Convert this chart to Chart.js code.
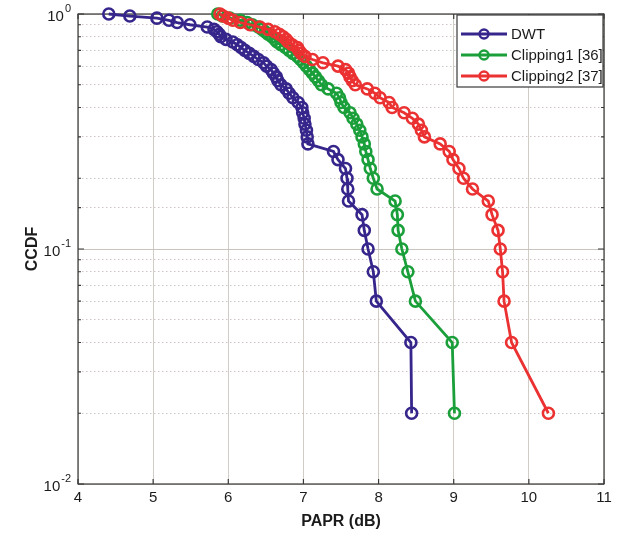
<!DOCTYPE html>
<html>
<head>
<meta charset="utf-8">
<script src="https://cdn.jsdelivr.net/npm/chart.js@4.4.0/dist/chart.umd.min.js"></script>
<style>
  body { margin: 0; background: #fff; }
  canvas { display: block; }
</style>
</head>
<body>
<canvas id="ccdfChart" width="621" height="541"></canvas>
<script>
// CCDF levels, shared by the three curves (50 samples each)
const ccdfLevels = [1.00, 0.98, 0.96, 0.94, 0.92, 0.90, 0.88, 0.86, 0.84, 0.82,
                    0.80, 0.78, 0.76, 0.74, 0.72, 0.70, 0.68, 0.66, 0.64, 0.62,
                    0.60, 0.58, 0.56, 0.54, 0.52, 0.50, 0.48, 0.46, 0.44, 0.42,
                    0.40, 0.38, 0.36, 0.34, 0.32, 0.30, 0.28, 0.26, 0.24, 0.22,
                    0.20, 0.18, 0.16, 0.14, 0.12, 0.10, 0.08, 0.06, 0.04, 0.02];

// PAPR (dB) at each CCDF level
const dwtPapr = [4.41, 4.69, 5.05, 5.21, 5.32, 5.49, 5.72, 5.81, 5.85, 5.88,
                 5.90, 5.97, 6.06, 6.12, 6.17, 6.22, 6.28, 6.34, 6.40, 6.47,
                 6.51, 6.57, 6.60, 6.64, 6.66, 6.70, 6.77, 6.81, 6.86, 6.93,
                 6.98, 6.99, 7.01, 7.02, 7.04, 7.05, 7.06, 7.40, 7.46, 7.56,
                 7.58, 7.59, 7.60, 7.78, 7.81, 7.86, 7.93, 7.97, 8.43, 8.44];
const clip1Papr = [5.86, 5.92, 6.02, 6.16, 6.25, 6.32, 6.40, 6.45, 6.49, 6.53,
                   6.58, 6.62, 6.65, 6.70, 6.76, 6.81, 6.86, 6.92, 6.96, 7.00,
                   7.04, 7.08, 7.12, 7.16, 7.20, 7.24, 7.33, 7.44, 7.48, 7.50,
                   7.54, 7.62, 7.66, 7.71, 7.75, 7.78, 7.81, 7.83, 7.86, 7.89,
                   7.93, 7.98, 8.22, 8.25, 8.26, 8.31, 8.39, 8.49, 8.98, 9.01];
const clip2Papr = [5.89, 5.93, 6.00, 6.06, 6.16, 6.29, 6.42, 6.53, 6.62, 6.68,
                   6.73, 6.77, 6.80, 6.85, 6.92, 6.94, 6.97, 7.02, 7.12, 7.26,
                   7.46, 7.56, 7.60, 7.62, 7.65, 7.69, 7.85, 7.95, 8.02, 8.14,
                   8.18, 8.34, 8.45, 8.53, 8.57, 8.61, 8.82, 8.94, 8.99, 9.07,
                   9.13, 9.25, 9.46, 9.51, 9.59, 9.62, 9.65, 9.67, 9.77, 10.26];

const seriesNames  = ['DWT', 'Clipping1 [36]', 'Clipping2 [37]'];
const seriesColors = ['#36268c', '#1a9f3a', '#eb3131'];

const xMin = 4, xMax = 11;
const yDecades   = [1, 0.1, 0.01];
const yExponents = ['0', '-1', '-2'];

const FONT = "'Liberation Sans', Arial, sans-serif";
const INK = '#1b1b1b';

const isDecade = v => Math.abs(Math.log10(v) - Math.round(Math.log10(v))) < 1e-6;
const toPoints = xs => xs.map((x, i) => ({ x: x, y: ccdfLevels[i] }));

// box round the axes, inward tick marks and the 10^n labels
const axesFrame = {
    id: 'axesFrame',
    beforeDatasetsDraw(chart) {
        const { ctx, chartArea: a, scales } = chart;
        ctx.save();
        ctx.strokeStyle = '#3a3a3a';
        ctx.lineWidth = 1.2;
        ctx.beginPath();
        scales.x.ticks.forEach(t => {
            const px = scales.x.getPixelForValue(t.value);
            ctx.moveTo(px, a.bottom); ctx.lineTo(px, a.bottom - 5);
            ctx.moveTo(px, a.top);    ctx.lineTo(px, a.top + 5);
        });
        scales.y.ticks.forEach(t => {
            const py = scales.y.getPixelForValue(t.value);
            const len = isDecade(t.value) ? 6 : 3;
            ctx.moveTo(a.left, py);  ctx.lineTo(a.left + len, py);
            ctx.moveTo(a.right, py); ctx.lineTo(a.right - len, py);
        });
        ctx.stroke();
        ctx.strokeRect(a.left, a.top, a.right - a.left, a.bottom - a.top);

        ctx.fillStyle = INK;
        yDecades.forEach((v, i) => {
            const py = scales.y.getPixelForValue(v);
            ctx.font = '11px ' + FONT;
            const expW = ctx.measureText(yExponents[i]).width;
            const baseX = a.left - 8 - expW;
            ctx.textAlign = 'left';
            ctx.textBaseline = 'middle';
            ctx.fillText(yExponents[i], baseX + 1, py - 5);
            ctx.font = '15px ' + FONT;
            ctx.textAlign = 'right';
            ctx.fillText('10', baseX, py + 3);
        });
        ctx.restore();
    }
};

// legend box in the upper right corner
const boxLegend = {
    id: 'boxLegend',
    afterDraw(chart) {
        const { ctx, chartArea: a } = chart;
        const w = 146, h = 72;
        const x0 = a.right - w - 1, y0 = a.top + 1;
        ctx.save();
        ctx.fillStyle = '#fff';
        ctx.fillRect(x0, y0, w, h);
        ctx.strokeStyle = '#3a3a3a';
        ctx.lineWidth = 1.2;
        ctx.strokeRect(x0, y0, w, h);
        ctx.font = '15px ' + FONT;
        ctx.textBaseline = 'middle';
        ctx.textAlign = 'left';
        chart.data.datasets.forEach((ds, i) => {
            const y = y0 + 19 + i * 21;
            ctx.strokeStyle = ds.borderColor;
            ctx.lineWidth = 2.8;
            ctx.beginPath();
            ctx.moveTo(x0 + 4, y); ctx.lineTo(x0 + 50, y);
            ctx.stroke();
            ctx.lineWidth = 2.4;
            ctx.beginPath();
            ctx.arc(x0 + 27, y, 4.5, 0, Math.PI * 2);
            ctx.stroke();
            ctx.fillStyle = INK;
            ctx.fillText(ds.label, x0 + 54, y + 1);
        });
        ctx.restore();
    }
};

const series = [dwtPapr, clip1Papr, clip2Papr];

const ctx = document.getElementById('ccdfChart').getContext('2d');
const ccdfChart = new Chart(ctx, {
    type: 'line',
    data: {
        datasets: series.map((xs, i) => ({
            label: seriesNames[i],
            data: toPoints(xs),
            borderColor: seriesColors[i],
            pointBorderColor: seriesColors[i],
            pointBackgroundColor: 'rgba(0,0,0,0)',
            borderWidth: 2.8,
            pointRadius: 5.5,
            pointBorderWidth: 2.6,
            tension: 0,
            clip: false,
            order: 3 - i
        }))
    },
    options: {
        responsive: false,
        animation: false,
        events: [],
        layout: { padding: { top: 14, right: 17, left: 0, bottom: 0 } },
        plugins: {
            legend: { display: false },
            tooltip: { enabled: false }
        },
        scales: {
            x: {
                type: 'linear',
                min: xMin,
                max: xMax,
                afterFit: s => { s.height = 57; },
                ticks: {
                    stepSize: 1,
                    color: INK,
                    padding: 5,
                    maxRotation: 0,
                    font: { family: FONT, size: 15 }
                },
                grid: { color: 'rgba(205,198,192,0.9)', lineWidth: 1, drawTicks: false },
                border: { display: false },
                title: {
                    display: true,
                    text: 'PAPR (dB)',
                    color: INK,
                    font: { family: FONT, size: 16, weight: 'bold' },
                    padding: { top: 0, bottom: 10 }
                }
            },
            y: {
                type: 'logarithmic',
                min: 0.01,
                max: 1,
                afterFit: s => { s.width = 78; },
                ticks: { display: false, autoSkip: false },
                grid: {
                    drawTicks: false,
                    lineWidth: 1,
                    color: c => isDecade(c.tick.value) ? 'rgba(200,192,186,0.95)' : 'rgba(195,184,184,0.8)'
                },
                border: {
                    display: false,
                    dash: c => isDecade(c.tick.value) ? [] : [1.5, 2.5]
                },
                title: {
                    display: true,
                    text: 'CCDF',
                    color: INK,
                    font: { family: FONT, size: 16, weight: 'bold' },
                    padding: { top: 23, bottom: 0 }
                }
            }
        }
    },
    plugins: [axesFrame, boxLegend]
});
</script>
</body>
</html>
